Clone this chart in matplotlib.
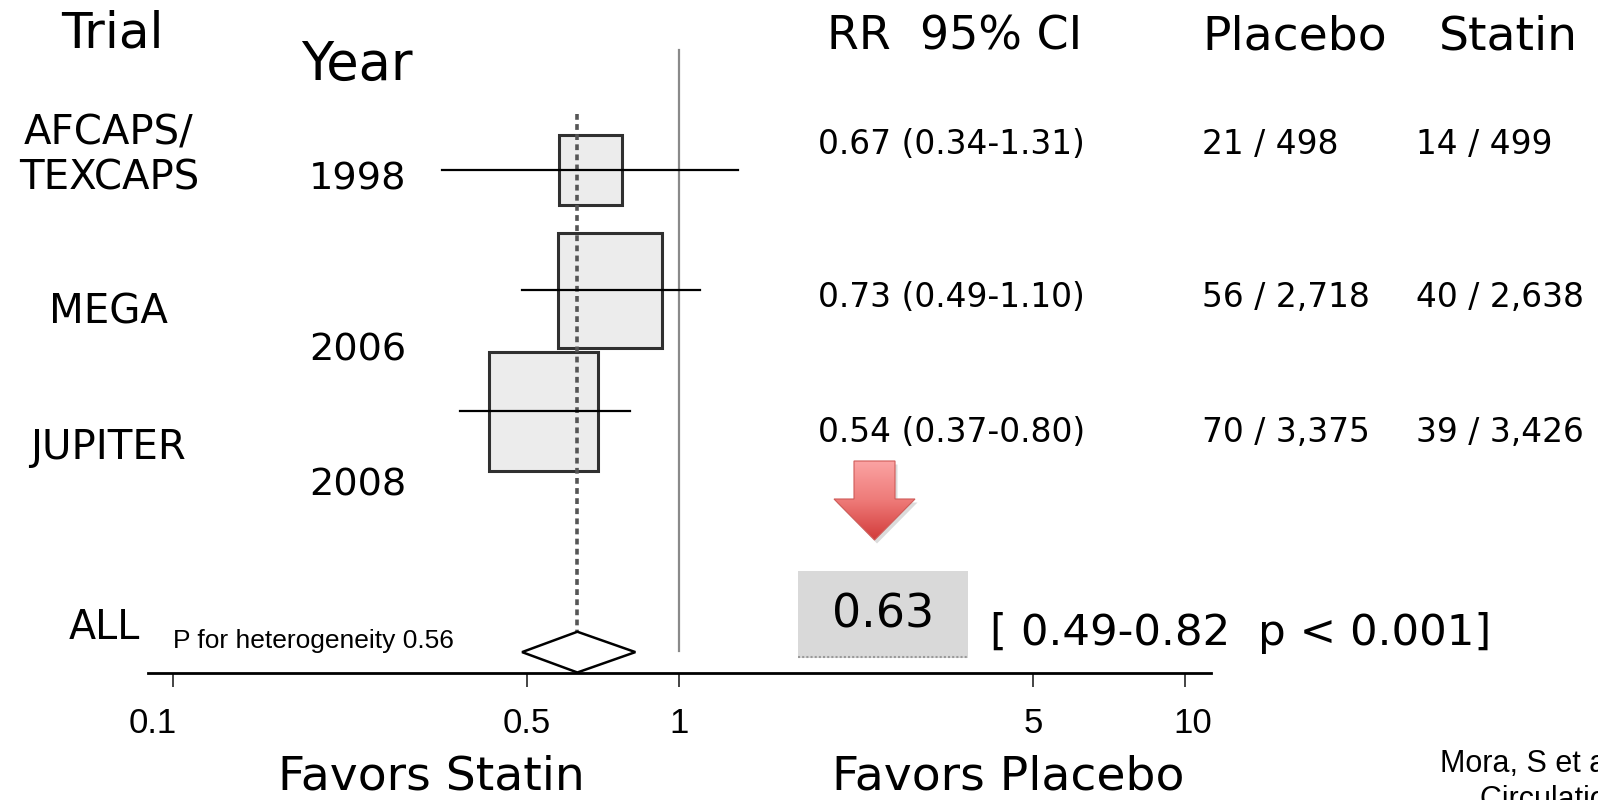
import numpy as np
import matplotlib
matplotlib.use("Agg")
import matplotlib.pyplot as plt
from matplotlib.patches import Rectangle, Polygon
from matplotlib.colors import LinearSegmentedColormap
from matplotlib.transforms import ScaledTranslation

# ---------------- data ----------------
trials = ["AFCAPS/\nTEXCAPS", "MEGA", "JUPITER"]
years = ["1998", "2006", "2008"]
rr = [0.67, 0.73, 0.54]
ci_lo = [0.34, 0.49, 0.37]
ci_hi = [1.31, 1.10, 0.80]
weights = [15, 41, 44]
placebo_events = [21, 56, 70]
placebo_n = [498, 2718, 3375]
statin_events = [14, 40, 39]
statin_n = [499, 2638, 3426]
pooled_rr = 0.63
pooled_lo = 0.49
pooled_hi = 0.82
pooled_p = "p < 0.001"
p_het = 0.56
tick_values = [0.1, 0.5, 1, 5, 10]
tick_labels = ["0.1", "0.5", "1", "5", "10"]

W, H = 1598, 800
MAIN = "DejaVu Sans"
ARIAL = "Liberation Sans"

fig = plt.figure(figsize=(W / 100, H / 100), dpi=100)
fig.patch.set_facecolor("white")


def ftext(x, y, s, size, family=MAIN, ha="left", va="baseline", **kw):
    fig.text(x / W, 1 - y / H, s, fontsize=size, family=family, ha=ha, va=va, **kw)


# ---------------- forest axes ----------------
ax_left, ax_right = 148, 1211
ax_top, ax_bottom = 13.2, 672.6
ax = fig.add_axes([ax_left / W, 1 - ax_bottom / H, (ax_right - ax_left) / W, (ax_bottom - ax_top) / H])
ax.patch.set_visible(False)
ax.set_xscale("log")
x0 = 10 ** ((ax_left - 679) / 506.5)
x1 = 10 ** ((ax_right - 679) / 506.5)
ax.set_xlim(x0, x1)
ax.set_ylim(4.17, -1.3)
for s in ["top", "left", "right"]:
    ax.spines[s].set_visible(False)
ax.spines["bottom"].set_linewidth(2)
ax.set_yticks([])
ax.set_xticks(tick_values)
ax.set_xticks([], minor=True)
ax.set_xticklabels(tick_labels, family=ARIAL, fontsize=25)
ax.tick_params(axis="x", direction="out", length=10, width=1.4, pad=15, color="#444444")
# first label sits a little left of its tick in the reference
lab0 = ax.get_xticklabels()[0]
lab0.set_transform(lab0.get_transform() + ScaledTranslation(-20 / 100, 0, fig.dpi_scale_trans))
lab_last = ax.get_xticklabels()[-1]
lab_last.set_transform(lab_last.get_transform() + ScaledTranslation(7 / 100, 0, fig.dpi_scale_trans))

px_per_dec = (ax_right - ax_left) / (np.log10(x1) - np.log10(x0))
px_per_row = (ax_bottom - ax_top) / 5.47

rows = np.arange(len(trials))
pooled_row = 4

# reference line at 1
ax.plot([1, 1], [-0.995, 3.99], color="#8a8a8a", lw=1.6, zorder=1)
# dotted line at pooled estimate
ax.plot([pooled_rr, pooled_rr], [-0.46, 4.17], color="#555555", lw=2.6,
        dashes=(1.6, 1.2), zorder=4)

for i, y in enumerate(rows):
    h = 0.0161 * np.sqrt(weights[i])
    left = rr[i] * 10 ** (-h)
    right = rr[i] * 10 ** (h)
    bh = 2 * h * px_per_dec * 1.1 / px_per_row
    ax.add_patch(Rectangle((left, y - bh / 2), right - left, bh, facecolor="#ececec",
                           edgecolor="#303030", lw=2.2, zorder=2))
    ax.plot([ci_lo[i], ci_hi[i]], [y, y], color="black", lw=1.6, zorder=5)

dh = 0.169
diamond = Polygon([[pooled_lo, pooled_row], [pooled_rr, pooled_row - dh],
                   [pooled_hi, pooled_row], [pooled_rr, pooled_row + dh]],
                  closed=True, facecolor="white", edgecolor="black", lw=1.8, zorder=6)
ax.add_patch(diamond)

# ---------------- overlay decorations ----------------
ov = fig.add_axes([0, 0, 1, 1], zorder=-1)
ov.set_xlim(0, W)
ov.set_ylim(H, 0)
ov.axis("off")
ov.patch.set_visible(False)

arrow_pts = [[854, 461], [895, 461], [895, 499], [915, 499], [874.5, 540],
             [834, 499], [854, 499]]
shadow = Polygon([[x + 2.5, y + 3.5] for x, y in arrow_pts], closed=True,
                 facecolor="#9a9a9a", alpha=0.35, edgecolor="none", zorder=0.5)
ov.add_patch(shadow)
arrow = Polygon(arrow_pts, closed=True, facecolor="none", edgecolor="#cf5b58", lw=0.8, zorder=3)
ov.add_patch(arrow)
cmap = LinearSegmentedColormap.from_list("arr", ["#fba3a3", "#ee7a78", "#d23b3a"])
grad = np.linspace(0, 1, 256).reshape(-1, 1)
im = ov.imshow(grad, cmap=cmap, extent=[834, 915, 540, 461], origin="upper",
               aspect="auto", interpolation="bilinear", zorder=2)
im.set_clip_path(arrow)
ov.set_xlim(0, W)
ov.set_ylim(H, 0)

ov.add_patch(Rectangle((798, 571), 170, 87, facecolor="#d9d9d9", edgecolor="none"))
ov.plot([798, 968], [657, 657], color="#9a9a9a", lw=1.5, dashes=(1, 1))

# ---------------- texts ----------------
ftext(112, 48, "Trial", 36, ha="center")
ftext(357, 79.5, "Year", 38, ha="center")
ftext(827, 50, "RR  95% CI", 33)
ftext(1202, 50, "Placebo", 34)
ftext(1439, 50, "Statin", 34)

ftext(109, 144.7, trials[0].split("\n")[0], 29, ha="center")
ftext(109, 189.6, trials[0].split("\n")[1], 29, ha="center")
ftext(108, 324, trials[1], 29, ha="center")
ftext(108, 458.6, trials[2], 29, ha="center")

year_y = [189.6, 360.8, 495.3]
for yy, t in zip(year_y, years):
    ftext(309, yy, t, 27.5)

val_y = [153.9, 306.7, 442.3]
for i, yy in enumerate(val_y):
    ftext(818, yy, f"{rr[i]:.2f} ({ci_lo[i]:.2f}-{ci_hi[i]:.2f})", 23.7)
    ftext(1202, yy, f"{placebo_events[i]} / {placebo_n[i]:,}", 23.7)
    ftext(1416, yy, f"{statin_events[i]} / {statin_n[i]:,}", 23.7)

ftext(69, 639, "ALL", 28.5)
ftext(173, 648, f"P for heterogeneity {p_het:.2f}", 19, family=ARIAL)

ftext(883, 627.8, f"{pooled_rr:.2f}", 33, ha="center")
ftext(990, 645, f"[ {pooled_lo:.2f}-{pooled_hi:.2f}  {pooled_p}]", 31.3)

ftext(431, 790, "Favors Statin", 34, ha="center")
ftext(1008, 790, "Favors Placebo", 34, ha="center")

ftext(1440, 772, "Mora, S et al.", 22, family=ARIAL)
ftext(1480, 808, "Circulation 2010", 22, family=ARIAL)

fig.savefig("out.png", dpi=100)
